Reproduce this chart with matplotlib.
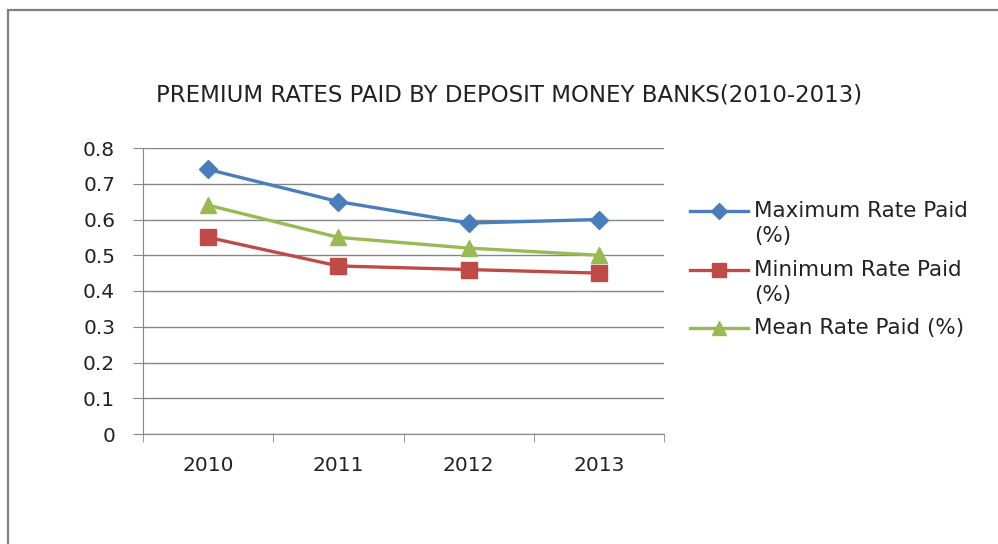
import matplotlib.pyplot as plt
from matplotlib.lines import Line2D
from matplotlib.patches import Rectangle
import numpy as np

years = ["2010", "2011", "2012", "2013"]
max_rate = [0.74, 0.65, 0.59, 0.60]
min_rate = [0.55, 0.47, 0.46, 0.45]
mean_rate = [0.64, 0.55, 0.52, 0.50]
yticks = [0, 0.1, 0.2, 0.3, 0.4, 0.5, 0.6, 0.7, 0.8]

plt.rcParams["font.family"] = ["DejaVu Sans"]
grey = "#868686"
text_c = "#222222"

fig = plt.figure(figsize=(9.98, 5.44), dpi=100)
# outer chart frame
fig.patches.append(Rectangle((7.5 / 998, -0.05), 1.2, 1.05 - 10 / 544, transform=fig.transFigure,
                             fill=False, edgecolor="#7f7f7f", linewidth=1.6))

ax = fig.add_axes([143 / 998, 1 - 434 / 544, (664 - 143) / 998, (434 - 148) / 544])
x = np.arange(len(years))
series = [
    (max_rate, "#4a7ebb", "D", 9, ["Maximum Rate Paid", "(%)"]),
    (min_rate, "#be4b48", "s", 11.5, ["Minimum Rate Paid", "(%)"]),
    (mean_rate, "#98b954", "^", 11.5, ["Mean Rate Paid (%)"]),
]
for vals, col, mk, ms, lab in series:
    ax.plot(x, vals, color=col, linewidth=2.4, marker=mk, markersize=ms, zorder=3)

ax.set_xlim(-0.5, 3.5)
ax.set_ylim(0, 0.8)
ax.set_yticks(yticks)
ax.set_yticklabels(["0" if v == 0 else f"{v:.1f}" for v in yticks], fontsize=14.5, color=text_c)
ax.set_xticks(x)
ax.set_xticklabels(years, fontsize=14.5, color=text_c)
ax.set_xticks(np.arange(-0.5, 4, 1), minor=True)
ax.tick_params(axis="x", which="major", length=0, pad=16)
ax.tick_params(axis="x", which="minor", length=6, color=grey, direction="out")
ax.tick_params(axis="y", length=7, color=grey, direction="out", pad=13)
ax.yaxis.grid(True, color=grey, linewidth=1)
for s in ["top", "right"]:
    ax.spines[s].set_visible(False)
ax.spines["left"].set_color(grey)
ax.spines["bottom"].set_color(grey)

fig.text(509 / 998, 1 - 95 / 544, "PREMIUM RATES PAID BY DEPOSIT MONEY BANKS(2010-2013)",
         ha="center", va="center", fontsize=16.5, color=text_c)

# legend entries
leg_y = [211, 270, 328]
for (vals, col, mk, ms, lab), yy in zip(series, leg_y):
    yf = 1 - yy / 544
    fig.add_artist(Line2D([690 / 998, 748 / 998], [yf, yf], color=col, linewidth=2.4,
                          transform=fig.transFigure))
    fig.add_artist(Line2D([719 / 998], [yf], color=col, marker=mk, markersize=ms * 0.85,
                          transform=fig.transFigure))
    for i, ln in enumerate(lab):
        fig.text(754 / 998, 1 - (yy + i * 25) / 544, ln, ha="left", va="center",
                 fontsize=15.5, color=text_c)

fig.savefig("out.png", dpi=100)
